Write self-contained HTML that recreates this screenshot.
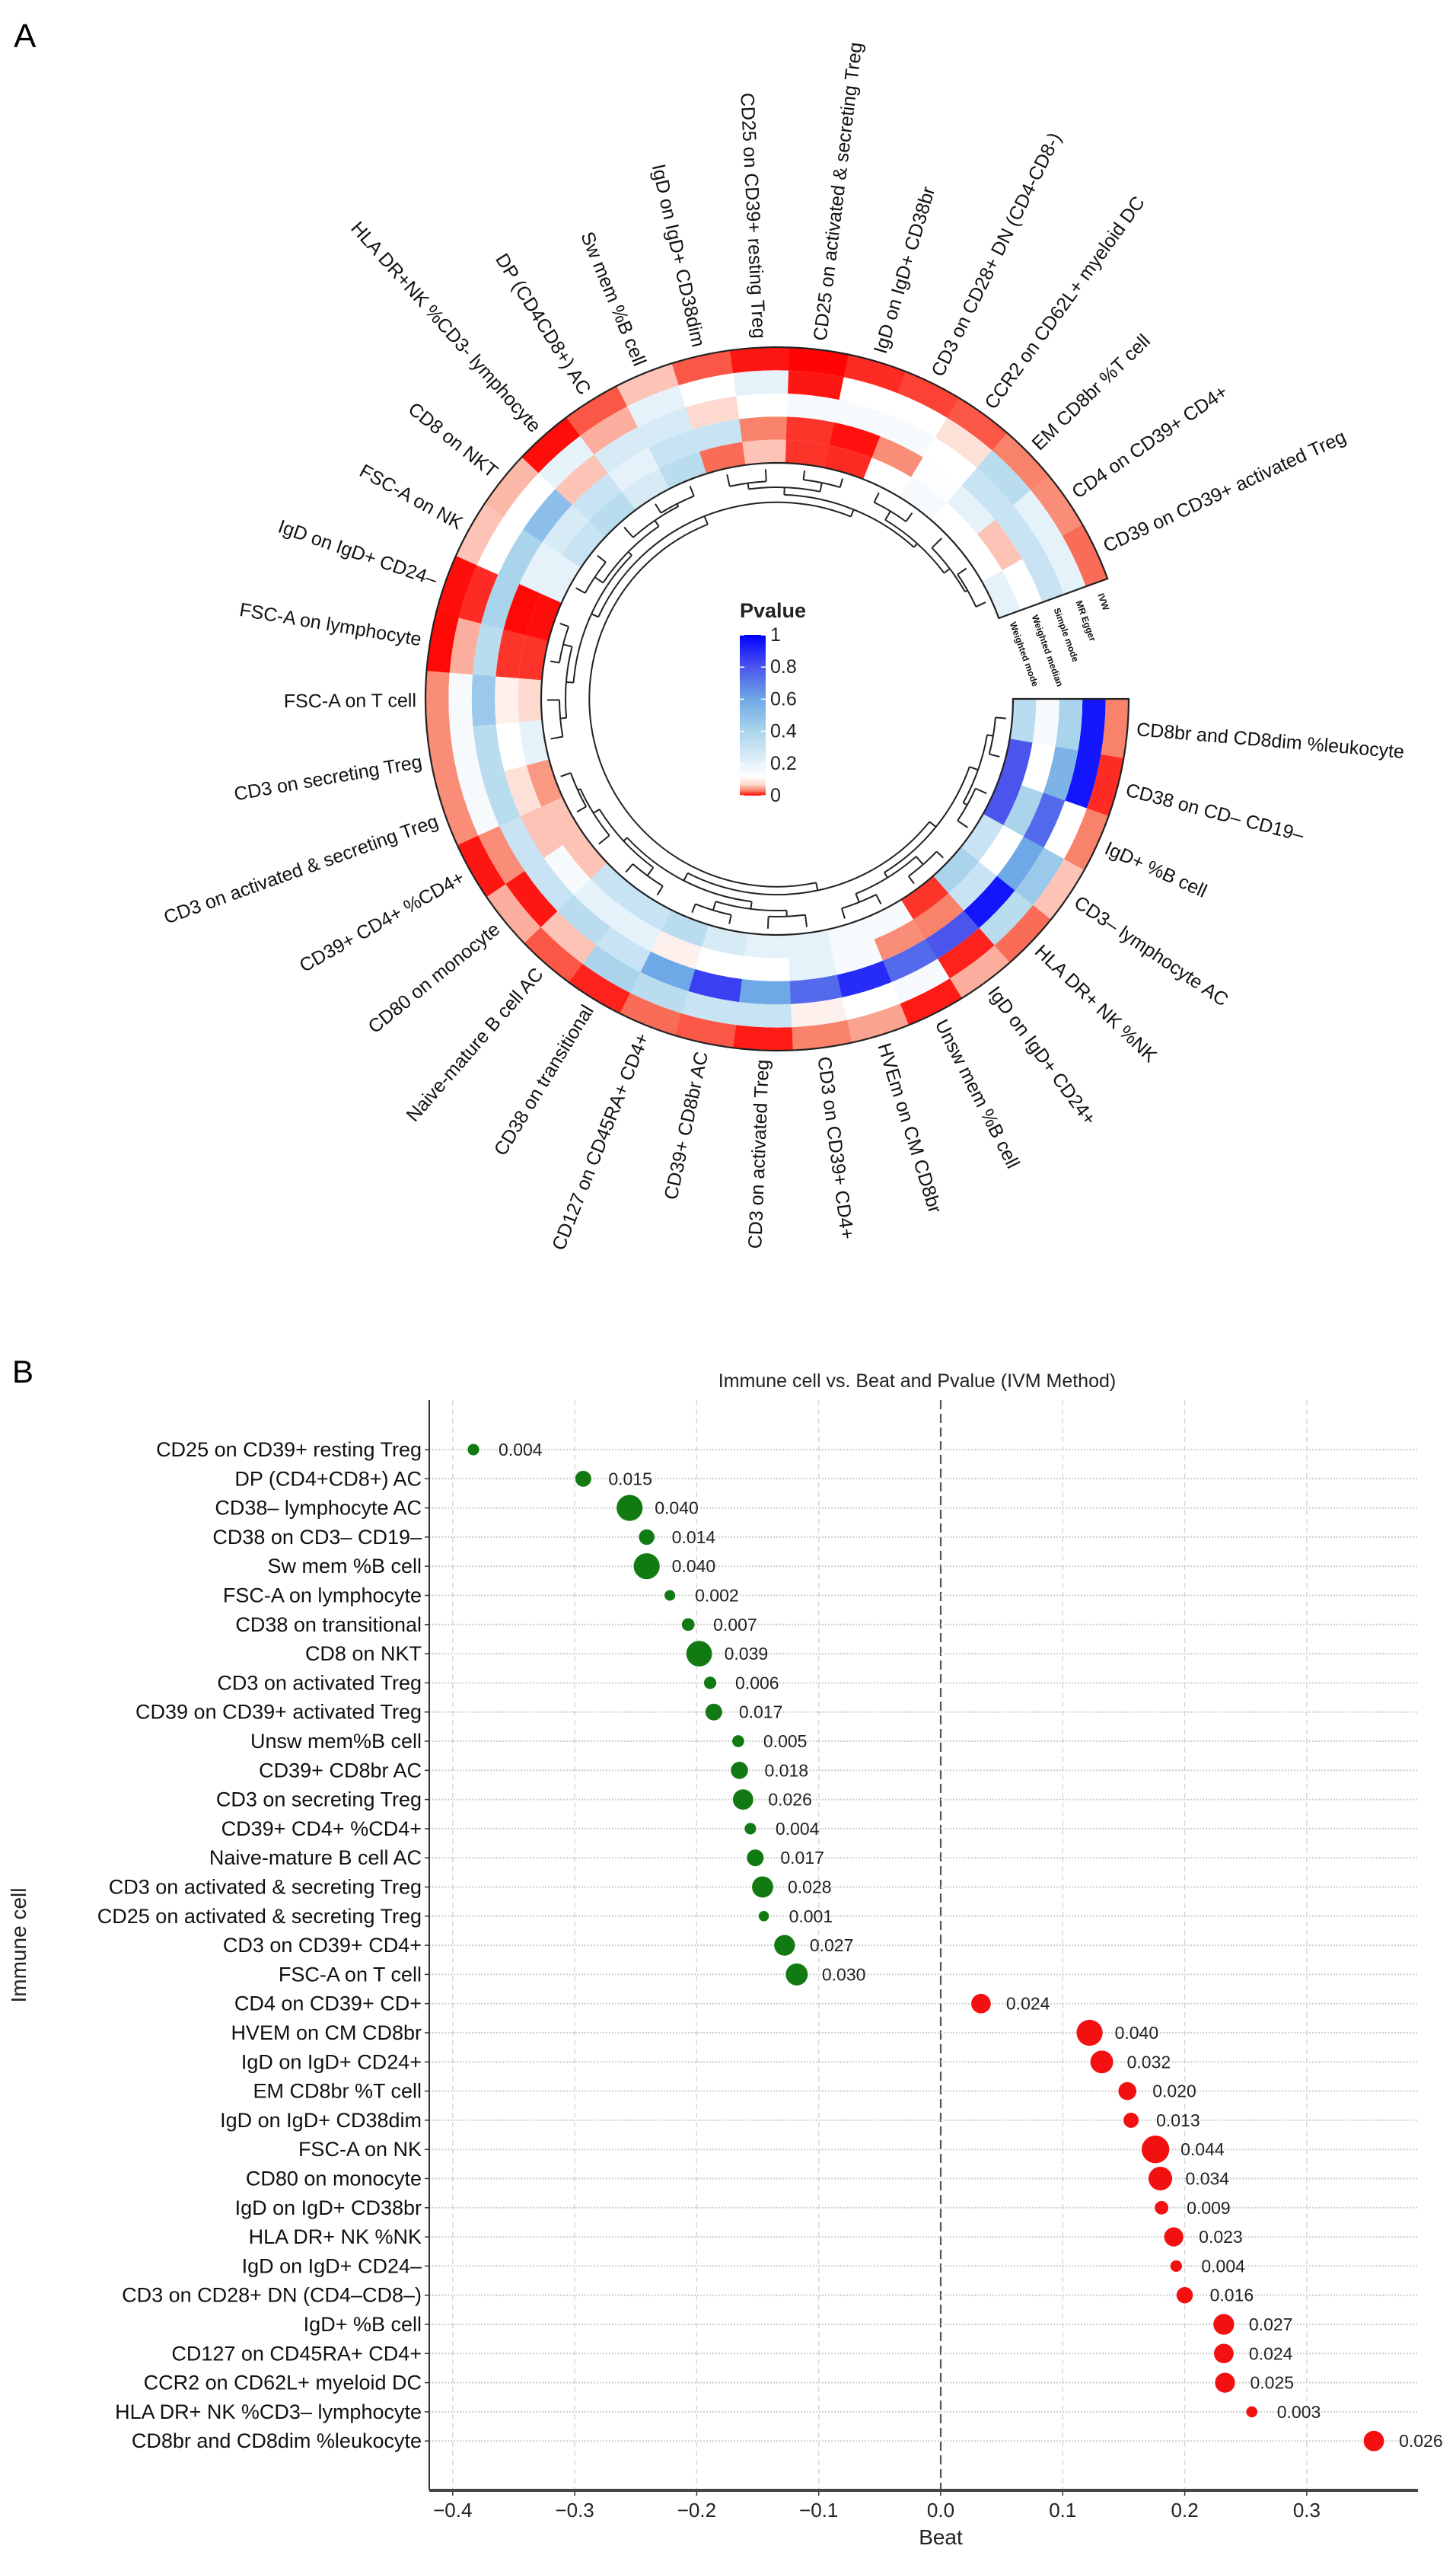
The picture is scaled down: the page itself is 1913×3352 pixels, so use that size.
<!DOCTYPE html>
<html><head><meta charset="utf-8"><style>
body{margin:0;background:#fff}
svg{display:block;font-family:"Liberation Sans",Arial,sans-serif}
</style></head><body>
<svg id="fig" width="1913" height="3352" viewBox="0 0 1913 3352" xmlns="http://www.w3.org/2000/svg">
<defs>
<linearGradient id="pgrad" x1="0" y1="1" x2="0" y2="0">
<stop offset="0" stop-color="#ff0000"/><stop offset="0.03" stop-color="#f8826a"/><stop offset="0.07" stop-color="#fdd9cf"/><stop offset="0.12" stop-color="#ffffff"/><stop offset="0.2" stop-color="#e6f2f9"/><stop offset="0.4" stop-color="#aad4ec"/><stop offset="0.6" stop-color="#6fa8e6"/><stop offset="0.8" stop-color="#4b55ee"/><stop offset="1" stop-color="#0000ff"/>
</linearGradient>
</defs>
<text x="18" y="62" font-size="44">A</text>
<text x="16" y="1816" font-size="42">B</text>
<g id="circ"></g>
<g id="dot"></g>
</svg>
<script>
// ---------- Panel A data ----------
const segLabels = ["CD8br and CD8dim %leukocyte","CD38 on CD– CD19–","IgD+ %B cell","CD3– lymphocyte AC","HLA DR+ NK %NK","IgD on IgD+ CD24+","Unsw mem %B cell","HVEm on CM CD8br","CD3 on CD39+ CD4+","CD3 on activated Treg","CD39+ CD8br AC","CD127 on CD45RA+ CD4+","CD38 on transitional","Naive-mature B cell AC","CD80 on monocyte","CD39+ CD4+ %CD4+","CD3 on activated & secreting Treg","CD3 on secreting Treg","FSC-A on T cell","FSC-A on lymphocyte","IgD on IgD+ CD24–","FSC-A on NK","CD8 on NKT","HLA DR+NK %CD3- lymphocyte","DP (CD4CD8+) AC","Sw mem %B cell","IgD on IgD+ CD38dim","CD25 on CD39+ resting Treg","CD25 on activated & secreting Treg","IgD on IgD+ CD38br","CD3 on CD28+ DN (CD4-CD8-)","CCR2 on CD62L+ myeloid DC","EM CD8br %T cell","CD4 on CD39+ CD4+","CD39 on CD39+ activated Treg"];
const ringNames = ["IVW","MR Egger","Simple mode","Weighted median","Weighted mode"];
const pIVW = [0.03,0.01,0.03,0.06,0.025,0.05,0.006,0.045,0.03,0.006,0.02,0.025,0.008,0.02,0.05,0.005,0.035,0.035,0.035,0.002,0.003,0.06,0.055,0.003,0.02,0.06,0.02,0.005,0.001,0.01,0.015,0.02,0.03,0.035,0.025];
const pEgger = [0.95,0.95,0.12,0.45,0.35,0.008,0.15,0.12,0.1,0.3,0.3,0.35,0.4,0.06,0.005,0.035,0.15,0.15,0.15,0.05,0.01,0.12,0.12,0.2,0.05,0.2,0.12,0.2,0.005,0.12,0.12,0.08,0.35,0.2,0.2];
const pSimple = [0.4,0.55,0.75,0.6,0.95,0.8,0.75,0.9,0.75,0.6,0.85,0.6,0.3,0.35,0.3,0.3,0.35,0.35,0.45,0.35,0.4,0.4,0.5,0.06,0.25,0.25,0.07,0.12,0.15,0.15,0.15,0.12,0.3,0.3,0.3];
const pWMedian = [0.15,0.12,0.4,0.12,0.3,0.03,0.035,0.15,0.2,0.12,0.12,0.1,0.2,0.2,0.15,0.06,0.08,0.12,0.1,0.012,0.002,0.2,0.25,0.3,0.2,0.3,0.3,0.03,0.012,0.004,0.035,0.13,0.2,0.06,0.12];
const pWMode = [0.35,0.8,0.8,0.3,0.4,0.012,0.15,0.15,0.2,0.2,0.25,0.35,0.3,0.3,0.06,0.06,0.04,0.2,0.07,0.012,0.003,0.2,0.3,0.35,0.25,0.35,0.025,0.06,0.012,0.01,0.12,0.15,0.12,0.12,0.2];
const legendTicks = [0,0.2,0.4,0.6,0.8,1];

// ---------- Panel B data ----------
const cells = ["CD25 on CD39+ resting Treg","DP (CD4+CD8+) AC","CD38– lymphocyte AC","CD38 on CD3– CD19–","Sw mem %B cell","FSC-A on lymphocyte","CD38 on transitional","CD8 on NKT","CD3 on activated Treg","CD39 on CD39+ activated Treg","Unsw mem%B cell","CD39+ CD8br AC","CD3 on secreting Treg","CD39+ CD4+ %CD4+","Naive-mature B cell AC","CD3 on activated & secreting Treg","CD25 on activated & secreting Treg","CD3 on CD39+ CD4+","FSC-A on T cell","CD4 on CD39+ CD+","HVEM on CM CD8br","IgD on IgD+ CD24+","EM CD8br %T cell","IgD on IgD+ CD38dim","FSC-A on NK","CD80 on monocyte","IgD on IgD+ CD38br","HLA DR+ NK %NK","IgD on IgD+ CD24–","CD3 on CD28+ DN (CD4–CD8–)","IgD+  %B cell","CD127 on CD45RA+ CD4+","CCR2 on CD62L+ myeloid DC","HLA DR+ NK %CD3– lymphocyte","CD8br and CD8dim %leukocyte"];
const beta = [-0.383,-0.293,-0.255,-0.241,-0.241,-0.222,-0.207,-0.198,-0.189,-0.186,-0.166,-0.165,-0.162,-0.156,-0.152,-0.146,-0.145,-0.128,-0.118,0.033,0.122,0.132,0.153,0.156,0.176,0.180,0.181,0.191,0.193,0.200,0.232,0.232,0.233,0.255,0.355];
const pval = [0.004,0.015,0.040,0.014,0.040,0.002,0.007,0.039,0.006,0.017,0.005,0.018,0.026,0.004,0.017,0.028,0.001,0.027,0.030,0.024,0.040,0.032,0.020,0.013,0.044,0.034,0.009,0.023,0.004,0.016,0.027,0.024,0.025,0.003,0.026];
const pvalText = ["0.004","0.015","0.040","0.014","0.040","0.002","0.007","0.039","0.006","0.017","0.005","0.018","0.026","0.004","0.017","0.028","0.001","0.027","0.030","0.024","0.040","0.032","0.020","0.013","0.044","0.034","0.009","0.023","0.004","0.016","0.027","0.024","0.025","0.003","0.026"];
const xTicks = [-0.4,-0.3,-0.2,-0.1,0.0,0.1,0.2,0.3];
const xTickText = ["−0.4","−0.3","−0.2","−0.1","0.0","0.1","0.2","0.3"];

const NS="http://www.w3.org/2000/svg";
function mk(tag, attrs, parent){const e=document.createElementNS(NS,tag);for(const k in attrs)e.setAttribute(k,attrs[k]);parent.appendChild(e);return e;}

// color scale
const stops=[[0,[255,0,0]],[0.03,[248,130,106]],[0.07,[253,217,207]],[0.12,[255,255,255]],[0.2,[230,242,249]],[0.4,[170,212,236]],[0.6,[111,168,230]],[0.8,[75,85,238]],[1,[0,0,255]]];
function pcol(p){for(let i=1;i<stops.length;i++){if(p<=stops[i][0]){const a=stops[i-1],b=stops[i];const t=(p-a[0])/(b[0]-a[0]);const c=a[1].map((v,j)=>Math.round(v+(b[1][j]-v)*t));return `rgb(${c[0]},${c[1]},${c[2]})`;}}return 'rgb(0,0,255)';}

// ---------- Panel A ----------
const circ=document.getElementById('circ');
const CX=1021, CY=918, R0=310, RW=30.4, SPAN=340;
const N=segLabels.length, STEP=SPAN/N;
const rad=d=>d*Math.PI/180;
function pt(r,a){return [CX+r*Math.cos(rad(a)),CY+r*Math.sin(rad(a))];}
function sector(r1,r2,a1,a2){const p1=pt(r2,a1),p2=pt(r2,a2),p3=pt(r1,a2),p4=pt(r1,a1);const l=(a2-a1)>180?1:0;return `M${p1[0]},${p1[1]} A${r2},${r2} 0 ${l} 1 ${p2[0]},${p2[1]} L${p3[0]},${p3[1]} A${r1},${r1} 0 ${l} 0 ${p4[0]},${p4[1]} Z`;}
const rings=[pIVW,pEgger,pSimple,pWMedian,pWMode];
rings.forEach((arr,ri)=>{
  const rOut=R0+RW*(5-ri), rIn=rOut-RW;
  arr.forEach((p,i)=>{
    const c=mk('path',{d:sector(rIn,rOut,i*STEP,(i+1)*STEP+0.15),fill:pcol(p),stroke:'none'},circ);
    
    
  });
});
const outline=mk('path',{d:sector(R0,R0+5*RW,0,SPAN),fill:'none',stroke:'#222','stroke-width':2.2},circ);


// segment labels
segLabels.forEach((lab,i)=>{
  const a=(i+0.5)*STEP; const [x,y]=pt(R0+5*RW+12,a);
  const left=(a>90&&a<270);
  const t=mk('text',{x:x,y:y,'font-size':25,fill:'#111','dominant-baseline':'central','text-anchor':left?'end':'start',transform:`rotate(${left?a+180:a} ${x} ${y})`},circ);
  t.textContent=lab;
  
  
});
// ring names in gap
ringNames.forEach((nm,ri)=>{
  const r=R0+RW*(5-ri)-RW/2; const [x,y]=pt(r,SPAN+2);
  const t=mk('text',{x:x,y:y,'font-size':12,'font-weight':'bold',fill:'#111','dominant-baseline':'central',transform:`rotate(${SPAN+90} ${x} ${y})`},circ);
  t.textContent=nm;
  
  
});
// dendrogram (structure only)
const dg=mk('g',{fill:'none',stroke:'#222','stroke-width':2},circ);


function tree(lo,hi){ // returns {a,r}
  const n=hi-lo+1;
  if(n===1){return {a:(lo+0.5)*STEP,r:302};}
  const mid=lo+Math.floor(n*((lo*7+hi*3)%5===0?0.4:0.5))-1;
  const m=Math.max(lo,Math.min(hi-1,mid));
  const L=tree(lo,m),Rr=tree(m+1,hi);
  const r=300-10*Math.log2(n)-((lo+hi)%3)*2;
  [L,Rr].forEach(ch=>{const p1=pt(r,ch.a),p2=pt(ch.r,ch.a);mk('path',{d:`M${p1[0]},${p1[1]} L${p2[0]},${p2[1]}`},dg);});
  const p1=pt(r,L.a),p2=pt(r,Rr.a);
  mk('path',{d:`M${p1[0]},${p1[1]} A${r},${r} 0 ${(Rr.a-L.a)>180?1:0} 1 ${p2[0]},${p2[1]}`},dg);
  return {a:(L.a+Rr.a)/2,r:r};
}
tree(0,N-1);
// legend
const lg=mk('g',{},circ);


const lt=mk('text',{x:972,y:811,'font-size':27,'font-weight':'bold',fill:'#222'},lg);lt.textContent='Pvalue';
const LY0=1045, LY1=834;
mk('rect',{x:972,y:LY1,width:34,height:LY0-LY1,fill:'url(#pgrad)'},lg);
legendTicks.forEach(v=>{
  const y=LY0-(LY0-LY1)*v;
  mk('line',{x1:972,x2:978,y1:y,y2:y,stroke:'#fff','stroke-width':1.5},lg);
  mk('line',{x1:1000,x2:1006,y1:y,y2:y,stroke:'#fff','stroke-width':1.5},lg);
  const t=mk('text',{x:1012,y:y,'font-size':25,fill:'#222','dominant-baseline':'central'},lg);
  t.textContent=String(v);
  
  
});

// ---------- Panel B ----------
const dot=document.getElementById('dot');
const PL=564, PR=1863, PT=1839, PB=3271;
const xs=b=>1236+b*1603;
const ys=i=>1904+i*38.3;
const rs=p=>6.5+265*p;
const tt=mk('text',{x:1205,y:1822,'font-size':25,'text-anchor':'middle',fill:'#222'},dot);tt.textContent='Immune cell vs. Beat and Pvalue (IVM Method)';


xTicks.forEach((v,i)=>{
  const x=xs(v);
  const g=mk('line',{x1:x,x2:x,y1:PT,y2:PB,stroke:v===0?'#555':'#d4d4d4','stroke-width':v===0?2.2:1.3,'stroke-dasharray':v===0?'12,6':'7,5'},dot);
  
  
  mk('line',{x1:x,x2:x,y1:PB,y2:PB+7,stroke:'#333','stroke-width':1.5},dot);
  const t=mk('text',{x:x,y:3306,'font-size':26,'text-anchor':'middle',fill:'#222'},dot);
  t.textContent=xTickText[i];
  
  
});
cells.forEach((c,i)=>{
  const y=ys(i);
  const gl=mk('line',{x1:PL,x2:PR,y1:y,y2:y,stroke:'#cfcfcf','stroke-width':2,'stroke-dasharray':'2,2'},dot);
  
  
  mk('line',{x1:PL-6,x2:PL,y1:y,y2:y,stroke:'#333','stroke-width':1.5},dot);
  const t=mk('text',{x:PL-10,y:y,'font-size':27,'text-anchor':'end','dominant-baseline':'central',fill:'#111'},dot);
  t.textContent=c;
  
  
});
mk('line',{x1:PL,x2:PL,y1:PT,y2:PB,stroke:'#333','stroke-width':2},dot);
const xa=mk('line',{x1:PL,x2:PR,y1:PB,y2:PB,stroke:'#444','stroke-width':4},dot);


beta.forEach((b,i)=>{
  const x=xs(b),y=ys(i);
  const c=mk('circle',{cx:x,cy:y,r:rs(pval[i]),fill:b<0?'#127a12':'#f21010'},dot);
  
  
  const t=mk('text',{x:x+33,y:y,'font-size':23,'dominant-baseline':'central',fill:'#222'},dot);
  t.textContent=pvalText[i];
  
  
});
const xl=mk('text',{x:1236,y:3342,'font-size':28,'text-anchor':'middle',fill:'#222'},dot);xl.textContent='Beat';


const yl=mk('text',{x:34,y:2555,'font-size':28,'text-anchor':'middle',fill:'#222',transform:'rotate(-90 34 2555)'},dot);yl.textContent='Immune cell';


</script>
</body></html>
